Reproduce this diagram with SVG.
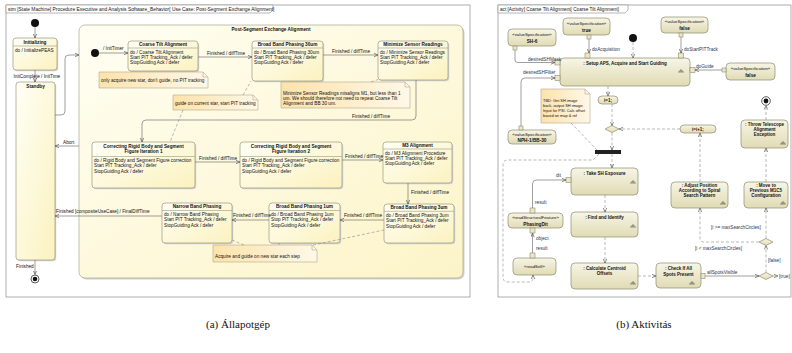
<svg xmlns="http://www.w3.org/2000/svg" width="792" height="353" viewBox="0 0 792 353">
<defs>
<linearGradient id="gs" x1="0" y1="0" x2="1" y2="1"><stop offset="0" stop-color="#fffff6"/><stop offset="1" stop-color="#fbf2bf"/></linearGradient>
<linearGradient id="gc" x1="0" y1="0" x2="1" y2="1"><stop offset="0" stop-color="#fffef2"/><stop offset="1" stop-color="#fcf4c8"/></linearGradient>
<linearGradient id="gn" x1="0" y1="0" x2="1" y2="0"><stop offset="0" stop-color="#fde2ab"/><stop offset="1" stop-color="#fff8e8"/></linearGradient>
<linearGradient id="ga" x1="0" y1="0" x2="0" y2="1"><stop offset="0" stop-color="#f7f5e6"/><stop offset="1" stop-color="#e0dbb4"/></linearGradient>
<marker id="ar" viewBox="0 0 6 6" refX="6" refY="3" markerWidth="4" markerHeight="4" orient="auto" markerUnits="userSpaceOnUse"><path d="M0,0.5 L6,3 L0,5.5" fill="none" stroke="#555" stroke-width="1"/></marker>
<g id="rake"><path d="M0,-2 V2 M-2,2 V0 H2 V2" fill="none" stroke="#333" stroke-width="0.5"/></g>
</defs>
<style>
.fr{fill:#fff;stroke:#9a9a9a;stroke-width:0.8}
.tab{fill:#fff;stroke:#9a9a9a;stroke-width:0.7}
.cp{fill:url(#gc);stroke:#aaa68a;stroke-width:0.7}
.st{fill:url(#gs);stroke:#9c9a7c;stroke-width:0.7}
.sh{fill:#d2d2d2}
.sep{stroke:#9c9a7c;stroke-width:0.6}
.t{font-family:"Liberation Sans",Arial,sans-serif;font-size:4.7px;fill:#111}
.s{font-size:4.3px}
.n{font-size:3.9px}
.a{font-size:4.5px}
.b{font-weight:bold}
.c{text-anchor:middle}
.bl{fill:#2a3550}
.ln{fill:none;stroke:#777;stroke-width:0.7}
.dl{fill:none;stroke:#8a8a8a;stroke-width:0.6;stroke-dasharray:3 2}
.nt{fill:url(#gn);stroke:#b3aa8e;stroke-width:0.6}
.fold{fill:none;stroke:#b3aa8e;stroke-width:0.6}
.ac{fill:url(#ga);stroke:#8e8c6e;stroke-width:0.7}
.pin{fill:#ebe7c8;stroke:#8e8c6e;stroke-width:0.6}
.cap{font-family:"Liberation Serif","Times New Roman",serif;font-size:11px;fill:#111;text-anchor:middle}
</style>

<!-- ============ LEFT: state machine ============ -->
<g id="frame-stm">
<rect class="fr" x="6" y="5" width="464" height="292"/>
<polygon class="tab" points="6,5 273,5 273,10 270,13 6,13"/>
<text class="t" x="8" y="11" style="font-size:4.9px">stm [State Machine] Procedure Executive and Analysis Software_Behavior[ Use Case: Post-Segment Exchange Alignment]</text>
</g>

<g id="init-top"><circle cx="35" cy="23" r="4" fill="#111"/></g>

<g id="initializing">
<rect class="sh" x="14.2" y="39.2" width="44" height="32" rx="3"/>
<rect class="st" x="13" y="38" width="44" height="32" rx="3"/>
<text class="t b c" x="35" y="43.5">Initializing</text>
<line class="sep" x1="13" y1="46" x2="57" y2="46"/>
<text class="t" x="15" y="51.5">do / InitializePEAS</text>
</g>

<g id="standby">
<rect class="sh" x="17.2" y="83.2" width="39" height="178" rx="3"/>
<rect class="st" x="16" y="82" width="39" height="178" rx="3"/>
<text class="t b c" x="35.5" y="87.5">Standby</text>
</g>

<g id="final-top"><circle cx="35" cy="279" r="4" fill="#fff" stroke="#333" stroke-width="0.8"/><circle cx="35" cy="279" r="2.3" fill="#111"/></g>

<g id="composite">
<rect class="sh" x="80.5" y="26.5" width="384" height="253" rx="6"/>
<rect class="cp" x="79" y="25" width="384" height="253" rx="6"/>
<text class="t b c" x="271" y="31">Post-Segment Exchange Alignment</text>
</g>

<g id="init-inner"><circle cx="95" cy="53" r="4" fill="#111"/></g>

<g id="coarse-tilt">
<rect class="sh" x="129.2" y="42.2" width="70" height="30" rx="3"/>
<rect class="st" x="128" y="41" width="70" height="30" rx="3"/>
<text class="t b c" x="163" y="45.8">Coarse Tilt Alignment</text>
<line class="sep" x1="128" y1="48" x2="198" y2="48"/>
<text class="t" x="130" y="53.5">do / Coarse Tilt Alignment</text>
<text class="t" x="130" y="58.9">Start PIT Tracking_Ack / defer</text>
<text class="t" x="130" y="64.3">StopGuiding Ack / defer</text>
</g>

<g id="bb30">
<rect class="sh" x="253.2" y="42.2" width="71" height="40" rx="3"/>
<rect class="st" x="252" y="41" width="71" height="40" rx="3"/>
<text class="t b c" x="287.5" y="45.8">Broad Band Phasing 30um</text>
<line class="sep" x1="252" y1="48" x2="323" y2="48"/>
<text class="t" x="254" y="53.5">do / Broad Band Phasing 30um</text>
<text class="t" x="254" y="58.9">Start PIT Tracking_Ack / defer</text>
<text class="t" x="254" y="64.3">StopGuiding Ack / defer</text>
</g>

<g id="minimize">
<rect class="sh" x="379.2" y="42.2" width="70" height="39" rx="3"/>
<rect class="st" x="378" y="41" width="70" height="39" rx="3"/>
<text class="t b c" x="413" y="45.8">Minimize Sensor Readings</text>
<line class="sep" x1="378" y1="48" x2="448" y2="48"/>
<text class="t" x="380" y="53.5">do / Minimize Sensor Readings</text>
<text class="t" x="380" y="58.9">Start PIT Tracking_Ack / defer</text>
<text class="t" x="380" y="64.3">StopGuiding Ack / defer</text>
</g>

<g id="note-acquire-new">
<polygon class="nt" points="99,72 203,72 208,77 208,88 99,88"/>
<path class="fold" d="M203 72 V77 H208"/>
<text class="t" x="101" y="82">only acquire new star, don't guide, no PIT tracking</text>
</g>

<g id="note-guide">
<polygon class="nt" points="173,95 253,95 258,100 258,110 173,110"/>
<path class="fold" d="M253 95 V100 H258"/>
<text class="t" x="175" y="105">guide on current star, start PIT tracking</text>
</g>

<g id="note-minimize">
<polygon class="nt" points="281,82 405,82 410,87 410,108 281,108"/>
<path class="fold" d="M405 82 V87 H410"/>
<text class="t" x="283" y="94.5">Minimize Sensor Readings misaligns M1, but less than 1</text>
<text class="t" x="283" y="99.7">um. We should therefore not need to repeat Coarse Tilt</text>
<text class="t" x="283" y="104.9">Alignment and BB 30 um.</text>
</g>

<g id="crb1">
<rect class="sh" x="93.2" y="143.2" width="103" height="46" rx="3"/>
<rect class="st" x="92" y="142" width="103" height="46" rx="3"/>
<text class="t b c" x="143.5" y="148.2">Correcting Rigid Body and Segment</text>
<text class="t b c" x="143.5" y="153.3">Figure Iteration 1</text>
<line class="sep" x1="92" y1="156.5" x2="195" y2="156.5"/>
<text class="t" x="94" y="161.7">do / Rigid Body and Segment Figure correction</text>
<text class="t" x="94" y="167.2">Start PIT Tracking_Ack / defer</text>
<text class="t" x="94" y="172.6">StopGuiding Ack / defer</text>
</g>

<g id="crb2">
<rect class="sh" x="241.2" y="143.2" width="102" height="46" rx="3"/>
<rect class="st" x="240" y="142" width="102" height="46" rx="3"/>
<text class="t b c" x="291" y="148.2">Correcting Rigid Body and Segment</text>
<text class="t b c" x="291" y="153.3">Figure Iteration 2</text>
<line class="sep" x1="240" y1="156.5" x2="342" y2="156.5"/>
<text class="t" x="242" y="161.7">do / Rigid Body and Segment Figure correction</text>
<text class="t" x="242" y="167.2">Start PIT Tracking_Ack / defer</text>
<text class="t" x="242" y="172.6">StopGuiding Ack / defer</text>
</g>

<g id="m3">
<rect class="sh" x="384.2" y="143.2" width="69" height="41" rx="3"/>
<rect class="st" x="383" y="142" width="69" height="41" rx="3"/>
<text class="t b c" x="417.5" y="146.8">M3 Alignment</text>
<line class="sep" x1="383" y1="149" x2="452" y2="149"/>
<text class="t" x="385" y="154.5">do / M3 Alignment Procedure</text>
<text class="t" x="385" y="159.9">Start PIT Tracking_Ack / defer</text>
<text class="t" x="385" y="165.3">StopGuiding Ack / defer</text>
</g>

<g id="bb3">
<rect class="sh" x="385.2" y="205.2" width="70" height="39" rx="3"/>
<rect class="st" x="384" y="204" width="70" height="39" rx="3"/>
<text class="t b c" x="419" y="209">Broad Band Phasing 3um</text>
<line class="sep" x1="384" y1="211.3" x2="454" y2="211.3"/>
<text class="t" x="386" y="216.8">do / Broad Band Phasing 3um</text>
<text class="t" x="386" y="222.2">Start PIT Tracking_Ack / defer</text>
<text class="t" x="386" y="227.6">StopGuiding Ack / defer</text>
</g>

<g id="bb1">
<rect class="sh" x="270.2" y="204.2" width="71" height="40" rx="3"/>
<rect class="st" x="269" y="203" width="71" height="40" rx="3"/>
<text class="t b c" x="304.5" y="208">Broad Band Phasing 1um</text>
<line class="sep" x1="269" y1="210.5" x2="340" y2="210.5"/>
<text class="t" x="271" y="216">do / Broad Band Phasing 1um</text>
<text class="t" x="271" y="221.4">Stop PIT Tracking_Ack / defer</text>
<text class="t" x="271" y="226.8">StopGuiding Ack / defer</text>
</g>

<g id="narrow">
<rect class="sh" x="163.2" y="204.2" width="70" height="40" rx="3"/>
<rect class="st" x="162" y="203" width="70" height="40" rx="3"/>
<text class="t b c" x="197" y="208">Narrow Band Phasing</text>
<line class="sep" x1="162" y1="210.5" x2="232" y2="210.5"/>
<text class="t" x="164" y="216">do / Narrow Band Phasing</text>
<text class="t" x="164" y="221.4">Start PIT Tracking_Ack / defer</text>
<text class="t" x="164" y="226.8">StopGuiding Ack / defer</text>
</g>

<g id="note-acquire-guide">
<polygon class="nt" points="213,245 312,245 317,250 317,262 213,262"/>
<path class="fold" d="M312 245 V250 H317"/>
<text class="t" x="215" y="257.5">Acquire and guide on new star each step</text>
</g>

<g id="stm-connectors">
<path class="ln" d="M35 27 V38" marker-end="url(#ar)"/>
<path class="ln" d="M35 70 V82" marker-end="url(#ar)"/>
<text class="t" x="13.5" y="78">InitComplete / InitTime</text>
<path class="ln" d="M55 115 H61 Q65 115 65 111 V59 Q65 55 69 55 H79" marker-end="url(#ar)"/>
<path class="ln" d="M79 146 H55" marker-end="url(#ar)"/>
<text class="t" x="63" y="143.5">Abort</text>
<path class="ln" d="M162 216 H55" marker-end="url(#ar)"/>
<text class="t" x="56" y="213">Finished [compositeUseCase] / FinalDiffTime</text>
<path class="ln" d="M35 260 V274.5" marker-end="url(#ar)"/>
<text class="t" x="16" y="267.5">Finished</text>
<path class="ln" d="M99 53 H128" marker-end="url(#ar)"/>
<text class="t" x="103" y="50">/ InitTimer</text>
<path class="ln" d="M198 57 H252" marker-end="url(#ar)"/>
<text class="t" x="207" y="54.5">Finished / diffTime</text>
<path class="ln" d="M323 55 H378" marker-end="url(#ar)"/>
<text class="t" x="332" y="52.5">Finished / diffTime</text>
<path class="ln" d="M416 80 V116 Q416 120 412 120 H146 Q142 120 142 124 V142" marker-end="url(#ar)"/>
<text class="t" x="352" y="118">Finished / diffTime</text>
<path class="ln" d="M195 162 H240" marker-end="url(#ar)"/>
<text class="t" x="199" y="159.5">Finished / diffTime</text>
<path class="ln" d="M342 160 H383" marker-end="url(#ar)"/>
<text class="t" x="345" y="157.5">Finished / diffTime</text>
<path class="ln" d="M408 183 V204" marker-end="url(#ar)"/>
<text class="t" x="411" y="193.5">Finished / diffTime</text>
<path class="ln" d="M384 220 H340" marker-end="url(#ar)"/>
<text class="t" x="344" y="217">Finished / diffTime</text>
<path class="ln" d="M269 220 H232" marker-end="url(#ar)"/>
<text class="t" x="233" y="217">Finished / diffTime</text>
<path class="dl" d="M243 95 L251 81"/>
<path class="dl" d="M183 110 L170 142"/>
<path class="dl" d="M371 82 L378 79.5"/>
<path class="dl" d="M244 245 L232 240"/>
<path class="dl" d="M279 245 L279 243"/>
<path class="dl" d="M313 245 L384 230"/>
</g>

<!-- ============ RIGHT: activity ============ -->
<g id="frame-act">
<rect class="fr" x="498" y="5" width="293" height="292"/>
<polygon class="tab" points="498,5 628,5 628,10 625,13 498,13"/>
<text class="t" x="500" y="11">act [Activity] Coarse Tilt Alignment[ Coarse Tilt Alignment]</text>
</g>

<g id="vs-sh6">
<rect class="ac" x="508" y="29" width="48" height="17" rx="4"/>
<text class="t s c" x="532" y="35.5">«valueSpecification»</text>
<text class="t b c" x="532" y="42.5">SH-6</text>
<rect class="pin" x="513" y="46" width="4" height="4"/>
</g>

<g id="vs-true">
<rect class="ac" x="563" y="18" width="47" height="17" rx="4"/>
<text class="t s c" x="586.5" y="24.5">«valueSpecification»</text>
<text class="t b c" x="586.5" y="31.5">true</text>
<rect class="pin" x="587" y="35" width="4" height="4"/>
</g>

<g id="init-act"><circle cx="633" cy="38" r="4" fill="#111"/></g>

<g id="vs-false-top">
<rect class="ac" x="661" y="17" width="47" height="16" rx="4"/>
<text class="t s c" x="684.5" y="23">«valueSpecification»</text>
<text class="t b c" x="684.5" y="30">false</text>
<rect class="pin" x="679" y="33" width="4" height="4"/>
</g>

<g id="vs-false-right">
<rect class="ac" x="726" y="63" width="49" height="17" rx="4"/>
<text class="t s c" x="750.5" y="69.5">«valueSpecification»</text>
<text class="t b c" x="750.5" y="76.5">false</text>
<rect class="pin" x="722" y="68" width="4" height="4"/>
</g>

<g id="setup">
<rect class="ac" x="560" y="58" width="130" height="28" rx="4"/>
<text class="t a b c" x="625" y="65">: Setup APS, Acquire and Start Guiding</text>
<use href="#rake" x="681" y="71"/>
<rect class="pin" x="555" y="60" width="5" height="5"/>
<rect class="pin" x="555" y="75.5" width="5" height="5"/>
<rect class="pin" x="585" y="53" width="5" height="5"/>
<rect class="pin" x="678.5" y="53" width="5" height="5"/>
<rect class="pin" x="690" y="67.5" width="5" height="5"/>
</g>

<g id="vs-nph">
<rect class="ac" x="508" y="130" width="48" height="14" rx="4"/>
<text class="t s c" x="532" y="135.5">«valueSpecification»</text>
<text class="t b c" x="532" y="141.8">NPH-1/BB-30</text>
<rect class="pin" x="519" y="126" width="4" height="4"/>
</g>

<g id="note-tbd">
<polygon class="nt" points="541,89 585,89 590,94 590,123 541,123"/>
<path class="fold" d="M585 89 V94 H590"/>
<text class="t n" x="543" y="101.5">TBD: Get SH image</text>
<text class="t n" x="543" y="106.5">back, output SH image;</text>
<text class="t n" x="543" y="111.5">Input for PSI. Calc offset</text>
<text class="t n" x="543" y="116.5">based on map &amp; ref</text>
</g>

<g id="i-init">
<rect class="ac" x="598" y="96" width="20" height="8" rx="4"/>
<text class="t a b c" x="608" y="101.6">i=1;</text>
</g>

<g id="merge"><polygon class="ac" points="605,129 612,125.5 619,129 612,132.5"/></g>

<g id="i-inc">
<rect class="ac" x="680" y="125" width="36" height="8" rx="4"/>
<text class="t a b c" x="698" y="130.6">i=i+1;</text>
</g>

<g id="fork"><rect x="595" y="150" width="26" height="4" fill="#222"/></g>

<g id="take-sh">
<rect class="ac" x="571" y="168" width="67" height="27" rx="4"/>
<text class="t a b c" x="604.5" y="174.5">: Take SH Exposure</text>
<use href="#rake" x="633" y="182"/>
<rect class="pin" x="566" y="177.5" width="5" height="5"/>
</g>

<g id="phasing-dit">
<rect class="ac" x="508" y="213" width="55" height="15" rx="4"/>
<text class="t s c" x="535.5" y="219">«readStructuralFeature»</text>
<text class="t b c" x="535.5" y="225.5">PhasingDit</text>
<rect class="pin" x="530" y="208" width="5" height="5"/>
<rect class="pin" x="530" y="228" width="5" height="5"/>
</g>

<g id="read-self">
<rect class="ac" x="513" y="258" width="43" height="17" rx="4"/>
<text class="t s c" x="534.5" y="268">«readSelf»</text>
<rect class="pin" x="530" y="253" width="5" height="5"/>
</g>

<g id="find-identify">
<rect class="ac" x="571" y="212" width="67" height="25" rx="4"/>
<text class="t a b c" x="604.5" y="218.5">: Find and Identify</text>
<use href="#rake" x="633" y="226"/>
</g>

<g id="calc-centroid">
<rect class="ac" x="571" y="263" width="67" height="26" rx="4"/>
<text class="t a b c" x="604.5" y="269.5">: Calculate Centroid</text>
<text class="t a b c" x="604.5" y="275">Offsets</text>
<use href="#rake" x="633" y="283"/>
</g>

<g id="check-spots">
<rect class="ac" x="656" y="263" width="45" height="25" rx="4"/>
<text class="t a b c" x="678.5" y="270">: Check If All</text>
<text class="t a b c" x="678.5" y="275.5">Spots Present</text>
<use href="#rake" x="692" y="283"/>
<rect class="pin" x="701" y="273.5" width="4" height="5"/>
</g>

<g id="adjust-position">
<rect class="ac" x="671" y="182" width="57" height="26" rx="4"/>
<text class="t a b c" x="699.5" y="186.8">: Adjust Position</text>
<text class="t a b c" x="699.5" y="191.8">According to Spiral</text>
<text class="t a b c" x="699.5" y="196.8">Search Pattern</text>
<use href="#rake" x="723" y="203"/>
</g>

<g id="move-previous">
<rect class="ac" x="744" y="182" width="44" height="26" rx="4"/>
<text class="t a b c" x="766" y="186.8">: Move to</text>
<text class="t a b c" x="766" y="191.8">Previous M1C5</text>
<text class="t a b c" x="766" y="196.8">Configuration</text>
<use href="#rake" x="783" y="203"/>
</g>

<g id="throw-exception">
<rect class="ac" x="741" y="120" width="47" height="28" rx="4"/>
<text class="t a b c" x="764.5" y="125.5">: Throw Telescope</text>
<text class="t a b c" x="764.5" y="130.5">Alignment</text>
<text class="t a b c" x="764.5" y="135.5">Exception</text>
<use href="#rake" x="783" y="143"/>
</g>

<g id="final-act"><circle cx="766" cy="101" r="4.3" fill="#fff" stroke="#333" stroke-width="0.8"/><circle cx="766" cy="101" r="2.4" fill="#111"/></g>

<g id="dec-upper"><polygon class="ac" points="759,242 766,238.5 773,242 766,245.5"/></g>
<g id="dec-lower"><polygon class="ac" points="759,276 766,272.5 773,276 766,279.5"/></g>

<g id="act-connectors">
<path class="ln" d="M515 50 V60 Q515 62.5 517.5 62.5 H555" marker-end="url(#ar)"/>
<text class="t bl" x="528" y="61.3">desiredSHMask</text>
<path class="ln" d="M521 126 V82 Q521 78 525 78 H555" marker-end="url(#ar)"/>
<text class="t bl" x="523" y="74">desiredSHFilter</text>
<path class="ln" d="M589 39 V53" marker-end="url(#ar)"/>
<text class="t bl" x="592" y="50.5">doAcquisition</text>
<path class="ln" d="M681 37 V53" marker-end="url(#ar)"/>
<text class="t bl" x="684" y="50.5">doStartPITTrack</text>
<path class="ln" d="M722 70 H695" marker-end="url(#ar)"/>
<text class="t bl" x="696" y="68">doGuide</text>
<path class="dl" d="M633 42 V58" marker-end="url(#ar)"/>
<path class="dl" d="M608 86 V96" marker-end="url(#ar)"/>
<path class="dl" d="M612 104 V125.5" marker-end="url(#ar)"/>
<path class="dl" d="M680 129 H619" marker-end="url(#ar)"/>
<path class="dl" d="M612 132.5 V150" marker-end="url(#ar)"/>
<path class="dl" d="M612 154 V168" marker-end="url(#ar)"/>
<path class="dl" d="M571 123 L597 150"/>
<path class="dl" d="M599 154 L593 160 H508 Q503 160 503 165 V277 Q503 282 508 282 H529 Q533 282 533 278 V275" marker-end="url(#ar)"/>
<path class="ln" d="M532.5 208 V184 Q532.5 180 536.5 180 H566" marker-end="url(#ar)"/>
<text class="t bl" x="556" y="177.3">dit</text>
<text class="t bl" x="535" y="204">result</text>
<path class="ln" d="M532.5 253 V233" marker-end="url(#ar)"/>
<text class="t bl" x="536" y="239.5">object</text>
<text class="t bl" x="536" y="249.5">result</text>
<path class="dl" d="M605 195 V212" marker-end="url(#ar)"/>
<path class="dl" d="M605 237 V263" marker-end="url(#ar)"/>
<path class="dl" d="M638 276 H656" marker-end="url(#ar)"/>
<path class="ln" d="M705 276 H759" marker-end="url(#ar)"/>
<text class="t bl" x="707" y="273.8">allSpotsVisible</text>
<path class="dl" d="M773 276 H778" marker-end="url(#ar)"/>
<text class="t bl" x="779" y="278">[true]</text>
<path class="dl" d="M766 272.5 V245.5" marker-end="url(#ar)"/>
<text class="t bl" x="768" y="262">[false]</text>
<path class="dl" d="M766 238.5 V208" marker-end="url(#ar)"/>
<text class="t bl" x="711" y="228.5">[i &gt;= maxSearchCircles]</text>
<path class="dl" d="M759 242 H704 Q700 242 700 238 V208" marker-end="url(#ar)"/>
<text class="t bl" x="695" y="249.5">[i &lt; maxSearchCircles]</text>
<path class="dl" d="M700 182 V133" marker-end="url(#ar)"/>
<path class="dl" d="M766 182 V148" marker-end="url(#ar)"/>
<path class="dl" d="M766 120 V105.5" marker-end="url(#ar)"/>
</g>

<g id="captions">
<text class="cap" x="238" y="328">(a) Állapotgép</text>
<text class="cap" x="644" y="328">(b) Aktivitás</text>
</g>
</svg>
